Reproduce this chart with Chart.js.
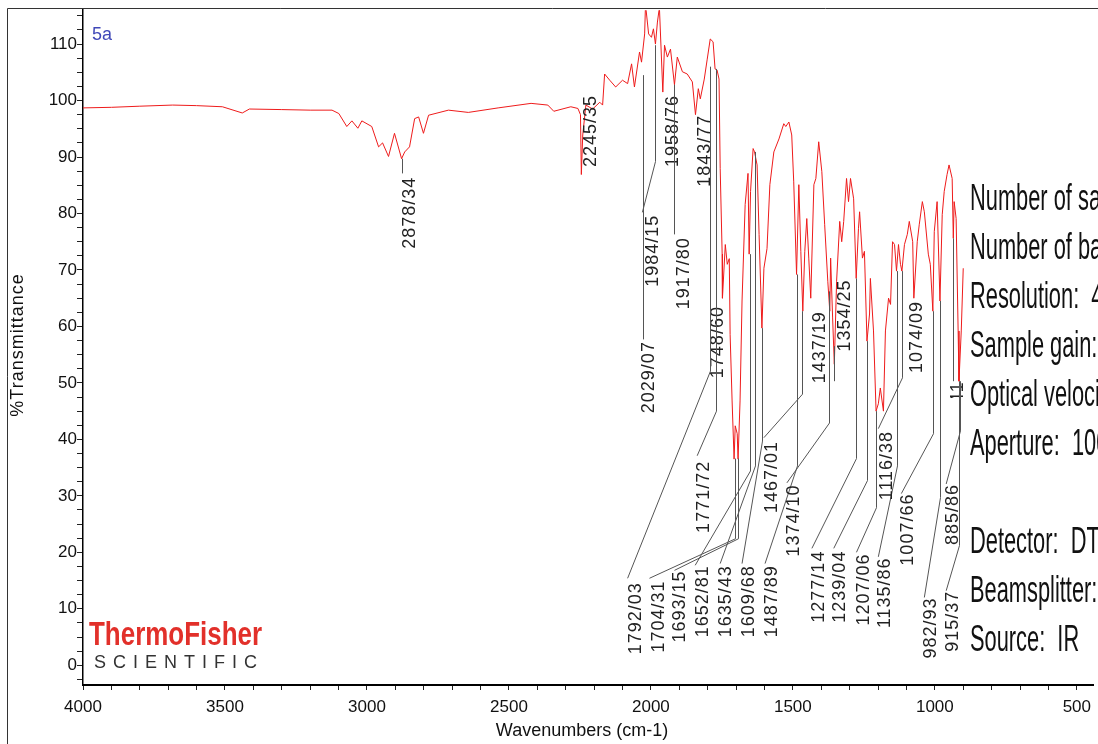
<!DOCTYPE html>
<html>
<head>
<meta charset="utf-8">
<script src="https://cdn.jsdelivr.net/npm/chart.js@4.4.1/dist/chart.umd.min.js"></script>
<style>
  html, body { margin: 0; padding: 0; background: #fff; }
  canvas { display: block; }
</style>
</head>
<body>
<canvas id="irChart" width="1098" height="744"></canvas>
<script>
// spectrum: wavenumber (cm-1) and %T
const wavenumbers = [
  4000, 3900, 3800, 3684, 3600, 3509, 3439, 3414, 3300, 3200, 3123, 3099, 3071, 3053, 3032, 3018,
  2983, 2959, 2945, 2924, 2903, 2878, 2867, 2850, 2832, 2818, 2801, 2783, 2713, 2643, 2538, 2422,
  2363, 2342, 2282, 2257, 2248, 2245, 2240, 2229, 2205, 2180, 2170, 2163, 2145, 2124, 2100, 2082,
  2068, 2058, 2040, 2033, 2022, 2019, 2008, 1998, 1991, 1984, 1977, 1970, 1958, 1952, 1942, 1931,
  1917, 1907, 1889, 1872, 1854, 1843, 1833, 1826, 1812, 1802, 1791, 1781, 1774, 1767, 1760, 1756,
  1749, 1748, 1738, 1731, 1724, 1721, 1714, 1707, 1703, 1696, 1693, 1686, 1679, 1668, 1658, 1654,
  1649, 1640, 1635, 1626, 1619, 1609, 1602, 1591, 1581, 1567, 1549, 1532, 1525, 1514, 1504, 1497,
  1487, 1479, 1472, 1465, 1458, 1451, 1444, 1437, 1426, 1419, 1409, 1398, 1388, 1377, 1370, 1367,
  1360, 1354, 1346, 1335, 1328, 1321, 1311, 1304, 1297, 1286, 1277, 1269, 1265, 1255, 1248, 1239,
  1230, 1227, 1216, 1207, 1199, 1192, 1181, 1174, 1163, 1156, 1149, 1142, 1135, 1128, 1121, 1116,
  1107, 1097, 1090, 1078, 1074, 1062, 1055, 1044, 1037, 1023, 1016, 1007, 1002, 992, 982, 974,
  967, 957, 950, 939, 935, 932, 925, 918, 915, 907, 900
];
const transmittance = [
  98.7, 98.8, 99.0, 99.2, 99.1, 98.9, 97.8, 98.5, 98.4, 98.3, 98.3, 97.7, 95.4, 96.4, 95.1, 96.4,
  95.4, 91.8, 92.5, 90.1, 94.2, 89.7, 90.9, 91.8, 96.8, 97.1, 94.2, 97.4, 98.3, 97.9, 98.7, 99.5,
  99.2, 98.1, 98.9, 98.6, 97.5, 86.9, 93.9, 99.2, 98.5, 99.7, 99.2, 104.7, 103.6, 102.4, 103.6, 103.0,
  106.5, 102.4, 108.6, 106.8, 111.8, 117.0, 111.8, 111.2, 112.7, 110.0, 113.9, 116.5, 101.5, 109.8, 107.7, 109.1,
  102.8, 107.7, 105.1, 104.7, 103.3, 97.5, 102.1, 100.3, 103.8, 107.2, 110.9, 110.4, 105.6, 105.4, 103.8, 88.0,
  72.8, 65.0, 74.5, 71.0, 72.0, 58.6, 46.8, 36.5, 42.4, 41.0, 36.5, 46.8, 64.5, 81.6, 87.1, 72.8,
  83.9, 91.5, 90.9, 88.6, 76.3, 59.7, 70.3, 73.8, 85.1, 90.9, 93.2, 95.9, 95.4, 96.2, 93.9, 85.6,
  69.2, 85.1, 73.3, 62.7, 73.3, 79.1, 72.1, 65.0, 85.1, 86.2, 92.7, 87.4, 78.0, 68.0, 62.7, 72.1,
  61.5, 53.3, 68.0, 78.6, 75.0, 78.6, 86.2, 82.1, 86.2, 82.6, 68.5, 77.3, 80.3, 72.1, 73.3, 57.4,
  62.2, 68.5, 59.2, 45.0, 46.3, 49.1, 45.0, 59.2, 65.0, 63.9, 75.0, 74.5, 69.8, 74.5, 71.0, 69.8,
  74.5, 76.3, 78.6, 75.0, 65.0, 75.0, 78.0, 82.1, 80.3, 72.8, 71.0, 62.7, 76.8, 82.1, 64.5, 79.8,
  83.9, 86.9, 88.6, 86.2, 75.6, 82.1, 79.1, 59.2, 50.3, 59.2, 70.3
];

// peak labels: text, peak wn, line start %T, line bend %T, line end wn, line end %T, label wn, label top %T
const peakLabels = [
  ['2878/34', 2878, 89.7, 87.1, null, null, 2850, 86.5],
  ['2245/35', 2245, null, null, null, null, 2212, 101.0],
  ['1958/76', 1958, null, null, null, null, 1921, 101.0],
  ['1843/77', 1843, null, null, null, null, 1809, 97.5],
  ['1984/15', 1984, 109.8, 89.2, 2030, 80.2, 1994, 79.8],
  ['2029/07', 2029, 104.5, 57.7, null, null, 2005, 57.4],
  ['1917/80', 1917, 102.8, 76.3, null, null, 1882, 75.8],
  ['1748/60', 1748, null, null, null, null, 1763, 63.6],
  ['1437/19', 1437, null, null, null, null, 1405, 62.7],
  ['1354/25', 1354, 56.5, 50.3, null, null, 1318, 68.3],
  ['1074/09', 1074, null, null, null, null, 1062, 64.5],
  ['1792/03', 1792, 106.0, 52.1, 2082, 15.4, 2054, 14.7],
  ['1771/72', 1771, 105.6, 45.0, 1837, 37.1, 1812, 36.2],
  ['1704/31', 1704, 36.6, 22.4, 2005, 15.4, 1970, 15.0],
  ['1693/15', 1693, 36.6, 22.4, 1917, 16.8, 1896, 16.8],
  ['1652/81', 1652, 72.8, 34.4, 1844, 17.7, 1816, 17.7],
  ['1635/43', 1635, 90.9, 35.3, 1756, 18.0, 1735, 17.7],
  ['1609/68', 1609, 59.7, 39.7, 1679, 18.0, 1654, 17.7],
  ['1487/89', 1487, 69.2, 35.3, 1598, 18.0, 1574, 17.7],
  ['1467/01', 1467, 62.7, 48.0, 1602, 40.3, 1574, 39.7],
  ['1374/10', 1374, 66.2, 42.9, 1521, 32.3, 1497, 32.0],
  ['1277/14', 1277, 68.5, 36.6, 1433, 20.7, 1409, 20.3],
  ['1239/04', 1239, 57.4, 32.7, 1356, 20.7, 1335, 20.3],
  ['1207/06', 1207, 45.0, 27.9, 1276, 20.0, 1251, 19.8],
  ['1135/86', 1135, 69.8, 35.3, 1199, 19.2, 1177, 19.1],
  ['1116/38', 1116, 69.8, 50.9, 1199, 41.9, 1170, 41.5],
  ['1007/66', 1007, 62.7, 41.0, 1118, 30.4, 1093, 30.4],
  ['982/93', 982, 64.5, 29.7, 1037, 12.0, 1013, 12.0],
  ['935/41', 935, 75.6, 50.3, null, null, 918, 50.3],
  ['915/37', 915, 50.3, 21.2, 960, 13.2, 936, 13.2],
  ['885/86', 912, 50.3, 41.5, 960, 32.1, 936, 32.1]
];

const infoLines = [
  'Number of sample scans: 32',
  'Number of background scans: 32',
  'Resolution:  4.000',
  'Sample gain:  8.0',
  'Optical velocity:  0.6329',
  'Aperture:  100.00',
  '',
  'Detector:  DTGS KBr',
  'Beamsplitter:  KBr',
  'Source:  IR'
];

const xMajor = 500;
const yMajor = 10;
const sans = "'Liberation Sans', Arial, sans-serif";

const overlay = {
  id: 'overlay',
  afterDatasetsDraw(chart) {
    const ctx = chart.ctx;
    const xs = chart.scales.x, ys = chart.scales.y;

    // outer frame
    ctx.save();
    ctx.strokeStyle = '#333';
    ctx.lineWidth = 1;
    ctx.beginPath();
    ctx.moveTo(7.5, 744);
    ctx.lineTo(7.5, 8.5);
    ctx.lineTo(1098, 8.5);
    ctx.stroke();
    ctx.restore();

    // peak leader lines and labels
    ctx.save();
    ctx.strokeStyle = '#555';
    ctx.lineWidth = 1;
    peakLabels.forEach(p => {
      const [text, wn, t0, t1, ex, ey, lx, ly] = p;
      if (t0 !== null) {
        const px = Math.round(xs.getPixelForValue(wn)) + 0.5;
        ctx.beginPath();
        ctx.moveTo(px, ys.getPixelForValue(t0));
        ctx.lineTo(px, ys.getPixelForValue(t1));
        if (ex !== null) ctx.lineTo(xs.getPixelForValue(ex), ys.getPixelForValue(ey));
        ctx.stroke();
      }
      ctx.save();
      if (text === '935/41') {
        ctx.beginPath();
        ctx.rect(0, 0, 1098, 398);
        ctx.clip();
      }
      ctx.translate(xs.getPixelForValue(lx), ys.getPixelForValue(ly));
      ctx.rotate(-Math.PI / 2);
      ctx.font = '18px ' + sans;
      ctx.letterSpacing = '1px';
      ctx.fillStyle = '#222';
      ctx.textAlign = 'right';
      ctx.textBaseline = 'middle';
      ctx.fillText(text, 0, 0);
      ctx.restore();
    });
    ctx.restore();

    // sample id
    ctx.save();
    ctx.font = '18px ' + sans;
    ctx.fillStyle = '#4048b8';
    ctx.textBaseline = 'alphabetic';
    ctx.fillText('5a', 92, 40);
    ctx.restore();

    // instrument info block
    ctx.save();
    ctx.fillStyle = '#111';
    ctx.font = '37px ' + sans;
    ctx.textBaseline = 'alphabetic';
    infoLines.forEach((line, i) => {
      if (!line) return;
      ctx.save();
      ctx.translate(970, 210 + i * 49);
      ctx.scale(0.59, 1);
      ctx.fillText(line, 0, 0);
      ctx.restore();
    });
    ctx.restore();

    // logo
    ctx.save();
    ctx.fillStyle = '#e2302a';
    ctx.font = 'bold 34px ' + sans;
    ctx.textBaseline = 'alphabetic';
    ctx.fillText('ThermoFisher', 89, 645, 173);
    ctx.fillStyle = '#333';
    ctx.font = '18px ' + sans;
    ctx.letterSpacing = '7px';
    ctx.fillText('SCIENTIFIC', 94, 668);
    ctx.restore();

    // axis titles
    ctx.save();
    ctx.fillStyle = '#111';
    ctx.font = '18px ' + sans;
    ctx.textAlign = 'center';
    ctx.textBaseline = 'middle';
    ctx.fillText('Wavenumbers (cm-1)', 582, 731);
    ctx.translate(18, 345);
    ctx.rotate(-Math.PI / 2);
    ctx.letterSpacing = '1px';
    ctx.fillText('%Transmittance', 0, 0);
    ctx.restore();
  }
};

new Chart(document.getElementById('irChart'), {
  type: 'line',
  data: {
    datasets: [{
      data: wavenumbers.map((w, i) => ({ x: w, y: transmittance[i] })),
      borderColor: '#ee1b1b',
      borderWidth: 1,
      pointRadius: 0,
      tension: 0,
      fill: false
    }]
  },
  options: {
    responsive: false,
    animation: false,
    devicePixelRatio: 1,
    layout: { padding: { left: 0, top: 8, right: 0, bottom: 0 }, autoPadding: false },
    plugins: { legend: { display: false }, tooltip: { enabled: false } },
    scales: {
      x: {
        type: 'linear',
        reverse: true,
        min: 441,
        max: 4000,
        afterFit: s => { s.height = 59; },
        border: { display: true, color: '#000', width: 2 },
        grid: { drawOnChartArea: false, drawTicks: true, tickLength: 5, tickColor: '#222' },
        ticks: {
          stepSize: 100,
          autoSkip: false,
          includeBounds: false,
          maxRotation: 0,
          padding: 7,
          color: '#111',
          font: { family: sans, size: 17 },
          callback: v => (v % xMajor === 0 ? String(v) : '')
        }
      },
      y: {
        type: 'linear',
        min: -3.5,
        max: 116,
        afterFit: s => { s.width = 83; },
        border: { display: true, color: '#000', width: 1.5 },
        grid: { drawOnChartArea: false, drawTicks: true, tickLength: 6, tickColor: '#222' },
        ticks: {
          stepSize: 2.5,
          autoSkip: false,
          includeBounds: false,
          padding: 0,
          color: '#111',
          font: { family: sans, size: 17 },
          callback: v => (Math.abs(v % yMajor) < 1e-6 ? String(Math.round(v)) : '')
        }
      }
    }
  },
  plugins: [overlay]
});
</script>
</body>
</html>
